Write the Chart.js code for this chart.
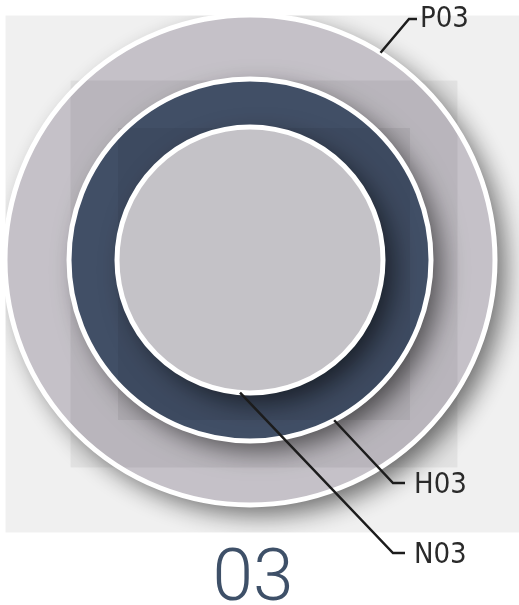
<!DOCTYPE html>
<html>
<head>
<meta charset="utf-8">
<script src="https://cdn.jsdelivr.net/npm/chart.js@4.4.1/dist/chart.umd.min.js"></script>
<style>
  html, body { margin: 0; padding: 0; background: #fff; }
  #wrap { width: 519px; height: 605px; position: relative; }
</style>
</head>
<body>
<div id="wrap"><canvas id="ringChart"></canvas></div>
<script>
// layers, outermost first
const layerNames = ['P03', 'H03', 'N03'];
const layerRadii = [245, 181, 133];
// backing panels (side length), largest first
const panelSides = [517, 387, 292];
const centerLabel = '03';

// layout (chart units, 1 unit ~ 1px, origin at ring center)
const panelCenter = { x: 14, y: -14 };
const leaderLayout = [
  { angle: 57.8,  elbow: [159, 241],  end: [167, 241],  text: [170, 241] },
  { angle: -62.3, elbow: [143, -223], end: [155, -223], text: [164, -225] },
  { angle: -94.3, elbow: [143, -293], end: [155, -293], text: [164, -295] }
];
const fillColors = ['#d2ced5', '#4b5a74', '#edeaf1'];

const ringPoints = layerRadii.map(r => ({ x: 0, y: 0, size: r }));
const panelPoints = panelSides.map(s => ({ x: panelCenter.x, y: panelCenter.y, size: s / 2 }));

function unitsToPx(chart, v) {
  const x = chart.scales.x;
  return Math.abs(x.getPixelForValue(v) - x.getPixelForValue(0));
}
const sizeOf = c => (c.raw && c.raw.size) ? unitsToPx(c.chart, c.raw.size) : 0;

const ringShadow = {
  id: 'ringShadow',
  beforeDatasetDraw(chart, args) {
    const ds = chart.data.datasets[args.index];
    if (!ds.castShadow) return;
    const { ctx, scales: { x, y } } = chart;
    const half = panelSides[0] / 2;
    const l = x.getPixelForValue(panelCenter.x - half);
    const r = x.getPixelForValue(panelCenter.x + half);
    const t = y.getPixelForValue(panelCenter.y + half);
    const b = y.getPixelForValue(panelCenter.y - half);
    ctx.save();
    ctx.beginPath();
    ctx.rect(l, t, r - l, b - t);
    ctx.clip();
    ctx.shadowColor = 'rgba(0,0,0,0.56)';
    ctx.shadowBlur = 26;
    ctx.shadowOffsetX = 10;
    ctx.shadowOffsetY = 10;
  },
  afterDatasetDraw(chart, args) {
    const ds = chart.data.datasets[args.index];
    if (ds.castShadow) chart.ctx.restore();
  }
};

const leaderLabels = {
  id: 'leaderLabels',
  afterDatasetsDraw(chart) {
    const { ctx, scales: { x, y } } = chart;
    ctx.save();
    ctx.strokeStyle = '#1c1c1c';
    ctx.lineWidth = 2.5;
    ctx.lineJoin = 'miter';
    ctx.fillStyle = '#2a2a2a';
    ctx.font = "29px 'Liberation Sans Narrow', 'DejaVu Sans Condensed', 'Roboto', sans-serif";
    ctx.textAlign = 'left';
    ctx.textBaseline = 'middle';
    leaderLayout.forEach((lay, i) => {
      const a = lay.angle * Math.PI / 180;
      const r = layerRadii[i];
      ctx.beginPath();
      ctx.moveTo(x.getPixelForValue(r * Math.cos(a)), y.getPixelForValue(r * Math.sin(a)));
      ctx.lineTo(x.getPixelForValue(lay.elbow[0]), y.getPixelForValue(lay.elbow[1]));
      ctx.lineTo(x.getPixelForValue(lay.end[0]), y.getPixelForValue(lay.end[1]));
      ctx.stroke();
      ctx.fillText(layerNames[i], x.getPixelForValue(lay.text[0]), y.getPixelForValue(lay.text[1]));
    });
    // big number under the panel
    ctx.fillStyle = '#3e5068';
    ctx.font = "300 73px 'Roboto', sans-serif";
    ctx.textAlign = 'center';
    ctx.textBaseline = 'alphabetic';
    ctx.fillText(centerLabel, x.getPixelForValue(3), y.getPixelForValue(-340));
    ctx.restore();
  }
};

new Chart(document.getElementById('ringChart'), {
  type: 'scatter',
  data: {
    datasets: [
      {
        label: 'fills',
        data: ringPoints,
        castShadow: true,
        order: 3,
        pointBackgroundColor: fillColors,
        pointBorderWidth: 0,
        pointRadius: sizeOf
      },
      {
        label: 'panels',
        data: panelPoints,
        order: 2,
        pointStyle: 'rect',
        pointBackgroundColor: 'rgba(0,0,0,0.06)',
        pointBorderWidth: 0,
        pointRadius: c => sizeOf(c) / Math.SQRT1_2
      },
      {
        label: 'rims',
        data: ringPoints,
        order: 1,
        pointBackgroundColor: 'rgba(0,0,0,0)',
        pointBorderColor: '#ffffff',
        pointBorderWidth: 5,
        pointRadius: sizeOf
      }
    ]
  },
  options: {
    responsive: true,
    maintainAspectRatio: false,
    animation: false,
    events: [],
    layout: { padding: 0 },
    plugins: {
      legend: { display: false },
      tooltip: { enabled: false },
      title: { display: false }
    },
    scales: {
      x: { type: 'linear', display: false, min: -250, max: 269 },
      y: { type: 'linear', display: false, min: -345, max: 260 }
    }
  },
  plugins: [ringShadow, leaderLabels]
});
</script>
</body>
</html>
